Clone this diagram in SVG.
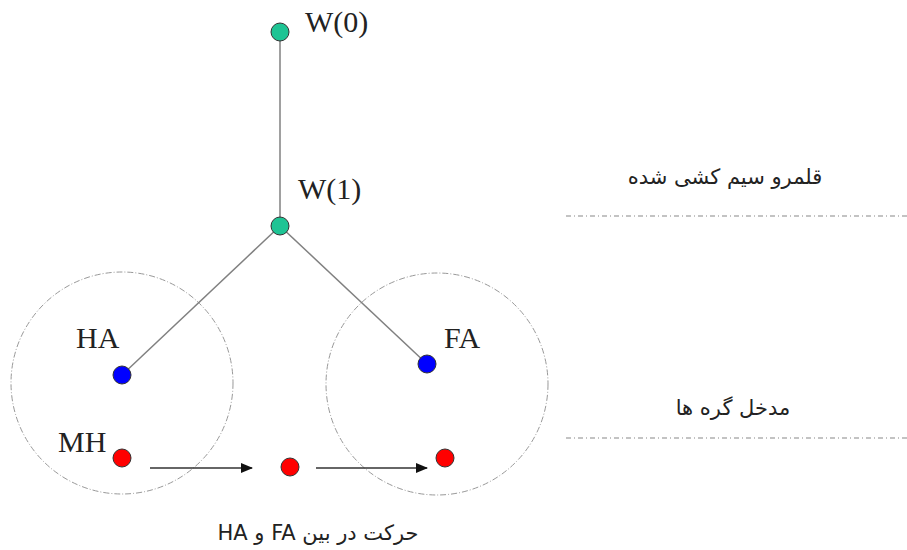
<svg xmlns="http://www.w3.org/2000/svg" width="907" height="550" viewBox="0 0 907 550">
<style>
.lbl{font-family:"Liberation Serif",serif;font-size:30px;fill:#222}
.fa{font-family:"DejaVu Sans","Noto Sans",sans-serif;font-size:21px;fill:#222}
.link{stroke:#808080;stroke-width:1.5;fill:none}
.arr{stroke:#333;stroke-width:1.5;fill:none}
.zone{stroke:#999;stroke-width:1;fill:none;stroke-dasharray:6 2 1 2}
.sep{stroke:#888;stroke-width:1.2;stroke-dasharray:5 3 1 3}
.w{fill:#1ec494;stroke:#333;stroke-width:1}
.b{fill:#0000ff;stroke:#333;stroke-width:1}
.r{fill:#ff0000;stroke:#333;stroke-width:1}
</style>
<defs>
<marker id="ah" markerWidth="12" markerHeight="10" refX="11" refY="5" orient="auto" markerUnits="userSpaceOnUse">
<path d="M0,0 L12,5 L0,10 Z" fill="#111"/>
</marker>
</defs>
<rect width="907" height="550" fill="#fff"/>
<g id="zones">
<circle class="zone" cx="122" cy="383" r="111"/>
<circle class="zone" cx="437" cy="384" r="111"/>
<line class="sep" x1="566" y1="216" x2="907" y2="216"/>
<line class="sep" x1="566" y1="438" x2="907" y2="438"/>
</g>
<g id="connectors">
<line class="link" x1="280" y1="32" x2="280" y2="226"/>
<line class="link" x1="280" y1="226" x2="122" y2="375"/>
<line class="link" x1="280" y1="226" x2="427" y2="364"/>
<line class="arr" x1="150" y1="468" x2="252" y2="468" marker-end="url(#ah)"/>
<line class="arr" x1="316" y1="468" x2="427" y2="468" marker-end="url(#ah)"/>
</g>
<g id="W0"><circle class="w" cx="280" cy="32" r="9"/><text class="lbl" x="305" y="32">W(0)</text></g>
<g id="W1"><circle class="w" cx="280" cy="226" r="9"/><text class="lbl" x="298" y="199">W(1)</text></g>
<g id="HA"><circle class="b" cx="122" cy="375" r="9"/><text class="lbl" x="76" y="348">HA</text></g>
<g id="FA"><circle class="b" cx="427" cy="364" r="9"/><text class="lbl" x="444" y="348">FA</text></g>
<g id="MH"><circle class="r" cx="122" cy="458" r="9"/><text class="lbl" x="58" y="452">MH</text></g>
<g id="mid"><circle class="r" cx="290" cy="467" r="9"/></g>
<g id="dest"><circle class="r" cx="445" cy="458" r="9"/></g>
<g id="labels">
<text class="fa" x="725" y="184" text-anchor="middle" direction="rtl">قلمرو سیم کشی شده</text>
<text class="fa" x="733" y="415" text-anchor="middle" direction="rtl">مدخل گره ها</text>
<text class="fa" x="318" y="540" text-anchor="middle" direction="rtl">حرکت در بین FA و HA</text>
</g>
</svg>
